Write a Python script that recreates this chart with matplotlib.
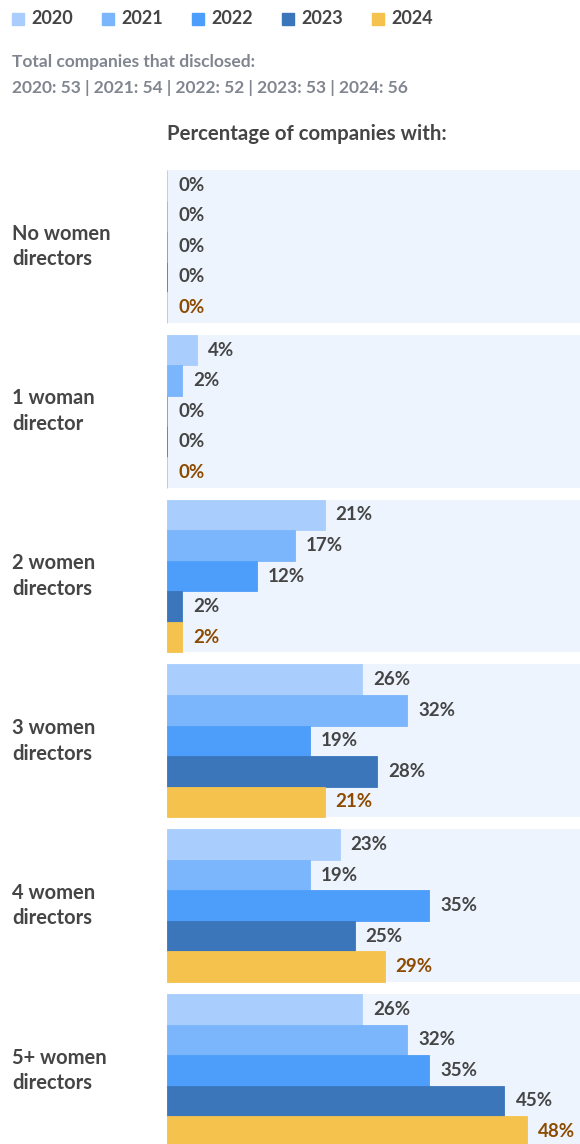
import numpy as np
import matplotlib
matplotlib.use("Agg")
import matplotlib.pyplot as plt

# ── Data ───────────────────────────────────────────────────────────────────────
YEARS      = ["2020", "2021", "2022", "2023", "2024"]
CATEGORIES = ["No women\ndirectors", "1 woman\ndirector", "2 women\ndirectors",
              "3 women\ndirectors", "4 women\ndirectors", "5+ women\ndirectors"]
TOTALS     = [53, 54, 52, 53, 56]

# percentage per category, one list per year
PCT_2020 = [0, 4, 21, 26, 23, 26]
PCT_2021 = [0, 2, 17, 32, 19, 32]
PCT_2022 = [0, 0, 12, 19, 35, 35]
PCT_2023 = [0, 0, 2, 28, 25, 45]
PCT_2024 = [0, 0, 2, 21, 29, 48]
SERIES = [PCT_2020, PCT_2021, PCT_2022, PCT_2023, PCT_2024]

COLORS    = ["#a9cdfc", "#7bb5fb", "#4d9efa", "#3b76bb", "#f5c24d"]
PANEL_BG  = "#edf4fe"
TEXT_DARK = "#454545"
TEXT_GREY = "#80858f"
LABEL_2024 = "#8c4b00"

# ── Layout (pixels at dpi=100) ─────────────────────────────────────────────────
W, H = 580, 1144
AX_LEFT, AX_TOP = 167, 170
PX_PER_PCT = 7.5
SLOT = 30.56                      # bar height in px
PITCH = 164.8 / SLOT              # group pitch in bar units

plt.rcParams["font.family"] = ["Lato", "DejaVu Sans"]

fig = plt.figure(figsize=(W / 100, H / 100), dpi=100)
ax = fig.add_axes([AX_LEFT / W, 0, 1 - AX_LEFT / W, 1 - AX_TOP / H])

xmax = (W - AX_LEFT) / PX_PER_PCT
ymax = (H - AX_TOP) / SLOT
ax.set_xlim(0, xmax)
ax.set_ylim(ymax, 0)
ax.axis("off")

n_years = len(YEARS)
for g, cat in enumerate(CATEGORIES):
    top = g * PITCH
    # panel background
    ax.barh(top + n_years / 2, xmax, height=n_years, left=0,
            color=PANEL_BG, linewidth=0, zorder=0)
    for j, vals in enumerate(SERIES):
        y = top + j + 0.5
        v = vals[g]
        ax.barh(y, v, height=1.0, color=COLORS[j], edgecolor=COLORS[j],
                linewidth=0.6, zorder=2)
        ax.annotate("%d%%" % v, xy=(v, y), xytext=(8, 0),
                    textcoords="offset points", va="center", ha="left",
                    fontsize=13.5, fontweight="bold",
                    color=LABEL_2024 if j == n_years - 1 else TEXT_DARK)
    # category label on the left
    fig.text(12 / W, 1 - (AX_TOP + (top + n_years / 2) * SLOT) / H, cat,
             ha="left", va="center", fontsize=14.5, fontweight="bold",
             color=TEXT_DARK, linespacing=1.35)

# ── Legend ─────────────────────────────────────────────────────────────────────
for j, yr in enumerate(YEARS):
    x0 = 12 + j * 90
    fig.patches.append(plt.Rectangle((x0 / W, 1 - 25 / H), 12 / W, 12 / H,
                                     transform=fig.transFigure,
                                     color=COLORS[j]))
    fig.text((x0 + 19) / W, 1 - 19 / H, yr, ha="left", va="center",
             fontsize=13, fontweight="bold", color=TEXT_DARK)

# ── Header text ────────────────────────────────────────────────────────────────
fig.text(12 / W, 1 - 62 / H, "Total companies that disclosed:",
         ha="left", va="center", fontsize=12.5, fontweight="bold",
         color=TEXT_GREY)
fig.text(12 / W, 1 - 88 / H,
         " | ".join("%s: %d" % (y, t) for y, t in zip(YEARS, TOTALS)),
         ha="left", va="center", fontsize=12.5, fontweight="bold",
         color=TEXT_GREY)
fig.text(AX_LEFT / W, 1 - 134 / H, "Percentage of companies with:",
         ha="left", va="center", fontsize=14.7, fontweight="bold",
         color=TEXT_DARK)

fig.savefig("out.png", dpi=100)
